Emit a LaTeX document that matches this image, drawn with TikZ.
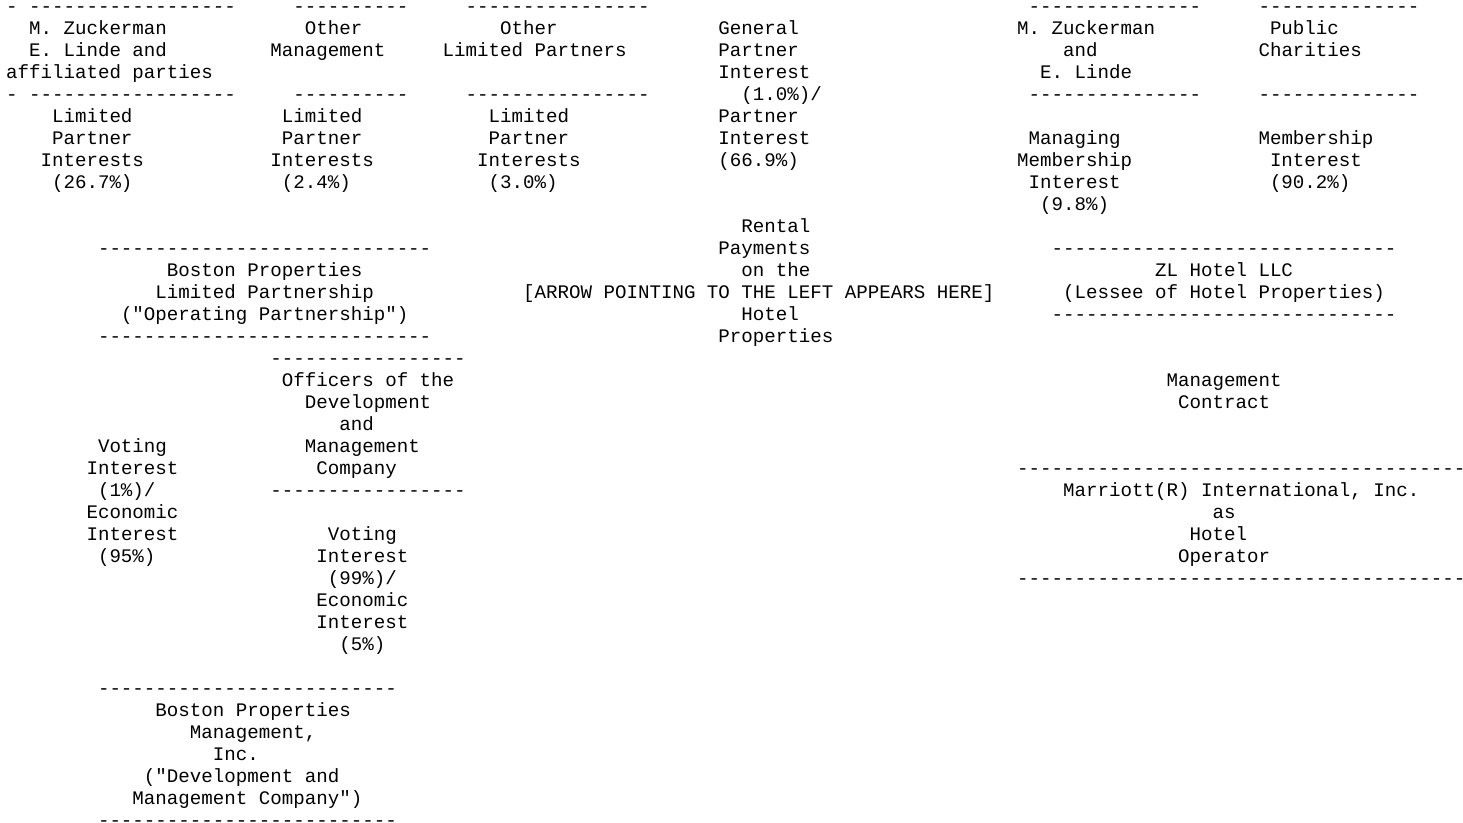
\documentclass[tikz,border=0pt]{standalone}
\usepackage{fontspec}
\setmonofont{Liberation Mono}
\newcommand{\dashes}[1]{\foreach \dcount in {1,...,#1}{-}}
\begin{document}
\begin{tikzpicture}[
		x=5.745pt, y=-11pt,
		every node/.style={anchor=base west, inner sep=0pt, font=\ttfamily\fontsize{9.575pt}{11pt}\selectfont}
		]
		\path[use as bounding box, fill=white] (0pt,0pt) rectangle (731.5pt,-411.5pt);
		\begin{scope}[shift={(2.85pt,-6.25pt)}]
		% owners of the operating partnership
		\node (zuckA0) at (0,0) {- \dashes{18}};
		\node (mgmtA0) at (25,0) {\dashes{10}};
		\node (lpA0) at (40,0) {\dashes{16}};
		\node (zuckA1) at (2,1) {M. Zuckerman};
		\node (zuckA2) at (2,2) {E. Linde and};
		\node (zuckA3) at (0,3) {affiliated parties};
		\node (zuckA4) at (0,4) {- \dashes{18}};
		\node (mgmtA1) at (26,1) {Other};
		\node (mgmtA2) at (23,2) {Management};
		\node (mgmtA4) at (25,4) {\dashes{10}};
		\node (lpA1) at (43,1) {Other};
		\node (lpA2) at (38,2) {Limited Partners};
		\node (lpA4) at (40,4) {\dashes{16}};
		\node (gp1) at (62,1) {General};
		\node (gp2) at (62,2) {Partner};
		\node (gp3) at (62,3) {Interest};
		\node (gp4) at (64,4) {(1.0\%)/};
		\node (gp5) at (62,5) {Partner};
		\node (gp6) at (62,6) {Interest};
		\node (gp7) at (62,7) {(66.9\%)};
		\foreach \c/\p [count=\i] in {4/26.7, 24/2.4, 42/3.0} {
			\node (lpi\i a) at (\c,5) {Limited};
			\node (lpi\i b) at (\c,6) {Partner};
			\node (lpi\i c) at (\c-1,7) {Interests};
			\node (lpi\i d) at (\c,8) {(\p\%)};
		}
		% owners of the hotel lessee
		\node (zuckB0) at (89,0) {\dashes{15}};
		\node (zuckB1) at (88,1) {M. Zuckerman};
		\node (zuckB2) at (92,2) {and};
		\node (zuckB3) at (90,3) {E. Linde};
		\node (zuckB4) at (89,4) {\dashes{15}};
		\node (charity0) at (109,0) {\dashes{14}};
		\node (charity1) at (110,1) {Public};
		\node (charity2) at (109,2) {Charities};
		\node (charity4) at (109,4) {\dashes{14}};
		\node (mmi1) at (89,6) {Managing};
		\node (mmi2) at (88,7) {Membership};
		\node (mmi3) at (89,8) {Interest};
		\node (mmi4) at (90,9) {(9.8\%)};
		\node (mi1) at (109,6) {Membership};
		\node (mi2) at (110,7) {Interest};
		\node (mi3) at (110,8) {(90.2\%)};
		% operating partnership
		\node (op0) at (8,11) {\dashes{29}};
		\node (op1) at (14,12) {Boston Properties};
		\node (op2) at (13,13) {Limited Partnership};
		\node (op3) at (10,14) {("Operating Partnership")};
		\node (op4) at (8,15) {\dashes{29}};
		% rental payments
		\node (rent1) at (64,10) {Rental};
		\node (rent2) at (62,11) {Payments};
		\node (rent3) at (64,12) {on the};
		\node (rent4) at (45,13) {[ARROW POINTING TO THE LEFT APPEARS HERE]};
		\node (rent5) at (64,14) {Hotel};
		\node (rent6) at (62,15) {Properties};
		% hotel lessee
		\node (zl0) at (91,11) {\dashes{30}};
		\node (zl1) at (100,12) {ZL Hotel LLC};
		\node (zl2) at (92,13) {(Lessee of Hotel Properties)};
		\node (zl3) at (91,14) {\dashes{30}};
		% officers
		\node (off0) at (23,16) {\dashes{17}};
		\node (off1) at (24,17) {Officers of the};
		\node (off2) at (26,18) {Development};
		\node (off3) at (29,19) {and};
		\node (off4) at (26,20) {Management};
		\node (off5) at (27,21) {Company};
		\node (off6) at (23,22) {\dashes{17}};
		% interests in the development and management company
		\node (vi1) at (8,20) {Voting};
		\node (vi2) at (7,21) {Interest};
		\node (vi3) at (8,22) {(1\%)/};
		\node (vi4) at (7,23) {Economic};
		\node (vi5) at (7,24) {Interest};
		\node (vi6) at (8,25) {(95\%)};
		\node (vo1) at (28,24) {Voting};
		\node (vo2) at (27,25) {Interest};
		\node (vo3) at (28,26) {(99\%)/};
		\node (vo4) at (27,27) {Economic};
		\node (vo5) at (27,28) {Interest};
		\node (vo6) at (29,29) {(5\%)};
		% development and management company
		\node (bpm0) at (8,31) {\dashes{26}};
		\node (bpm1) at (13,32) {Boston Properties};
		\node (bpm2) at (16,33) {Management,};
		\node (bpm3) at (18,34) {Inc.};
		\node (bpm4) at (12,35) {("Development and};
		\node (bpm5) at (11,36) {Management Company")};
		\node (bpm6) at (8,37) {\dashes{26}};
		% hotel operator
		\node (mc1) at (101,17) {Management};
		\node (mc2) at (102,18) {Contract};
		\node (mar0) at (88,21) {\dashes{39}};
		\node (mar1) at (92,22) {Marriott(R) International, Inc.};
		\node (mar2) at (105,23) {as};
		\node (mar3) at (103,24) {Hotel};
		\node (mar4) at (102,25) {Operator};
		\node (mar5) at (88,26) {\dashes{39}};
		\end{scope}
\end{tikzpicture}
\end{document}
